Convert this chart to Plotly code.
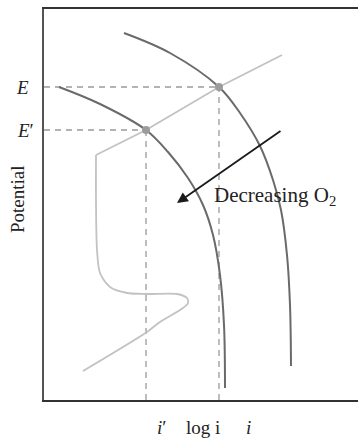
import plotly.graph_objects as go

# Polarisation curves on a log i (x) vs potential (y) plane, arbitrary units.
X_MAX = 314
Y_MAX = 391

# Cathodic O2 reduction curve, reduced oxygen concentration
low_o2_logi = [15, 56, 102, 124, 144, 159, 169, 176, 180, 181]
low_o2_pot = [313, 296, 270, 248, 222, 195, 165, 125, 75, 12]

# Cathodic O2 reduction curve, higher oxygen concentration
high_o2_logi = [80, 126, 175, 196, 216, 229, 237, 243, 246, 247]
high_o2_pot = [367, 347, 313, 287, 254, 220, 190, 145, 95, 34]

# Anodic metal curve: active (Tafel) branch
tafel_logi = [52, 102, 175, 238]
tafel_pot = [245, 270, 313, 345]

# Anodic metal curve: passive region and active-passive nose
passive_logi = [52, 52, 53, 56, 66, 83, 103, 133, 143, 144, 139, 116, 103, 39]
passive_pot = [245, 200, 150, 127, 113, 107, 106, 106, 102, 97, 92, 78, 68, 29]

# Mixed-potential operating points (E', i') and (E, i)
op_logi = [102, 175]
op_pot = [270, 313]

# Arrow showing the shift with decreasing oxygen
arrow_logi = [238, 133]
arrow_pot = [270, 197]

serif = "Liberation Serif"
dark = "#6a6a6a"
light = "#c2c2c2"
guide = "#9a9a9a"
ink = "#222222"


def px(v):
    return v / X_MAX


def py(v):
    return v / Y_MAX


fig = go.Figure()

fig.add_trace(go.Scatter(x=passive_logi, y=passive_pot, mode="lines",
                         line=dict(color=light, width=1.8, shape="spline", smoothing=0.8),
                         hoverinfo="skip"))
fig.add_trace(go.Scatter(x=tafel_logi, y=tafel_pot, mode="lines",
                         line=dict(color=light, width=1.8), hoverinfo="skip"))
fig.add_trace(go.Scatter(x=low_o2_logi, y=low_o2_pot, mode="lines",
                         line=dict(color=dark, width=2, shape="spline", smoothing=1.0),
                         hoverinfo="skip"))
fig.add_trace(go.Scatter(x=high_o2_logi, y=high_o2_pot, mode="lines",
                         line=dict(color=dark, width=2, shape="spline", smoothing=1.0),
                         hoverinfo="skip"))

# Dashed guides from each operating point to the axes
for xi, yi in zip(op_logi, op_pot):
    fig.add_shape(type="line", x0=0, x1=xi, y0=yi, y1=yi, xref="x", yref="y",
                  line=dict(color=guide, width=1.3, dash="6px,5px"), layer="below")
    fig.add_shape(type="line", x0=xi, x1=xi, y0=0, y1=yi, xref="x", yref="y",
                  line=dict(color=guide, width=1.3, dash="6px,5px"), layer="below")

fig.add_trace(go.Scatter(x=op_logi, y=op_pot, mode="markers",
                         marker=dict(color="#9c9c9c", size=8), hoverinfo="skip"))

fig.add_annotation(x=arrow_logi[1], y=arrow_pot[1], ax=arrow_logi[0], ay=arrow_pot[0],
                   xref="x", yref="y", axref="x", ayref="y", text="",
                   showarrow=True, arrowhead=2, arrowsize=1.2, arrowwidth=1.8,
                   arrowcolor="#1a1a1a")
fig.add_annotation(x=168, y=204, xref="x", yref="y", text="Decreasing O<sub>2</sub>",
                   showarrow=False, xanchor="left", yanchor="middle",
                   font=dict(family=serif, size=21, color=ink))

# Labels outside the plotting area (paper coordinates, centred on their point)
label_font = dict(family=serif, size=19, color=ink)
outer_labels = [
    (-22, op_pot[1], "<i>E</i>", 0),
    (-19, op_pot[0], "<i>E</i>\u2032", 0),
    (117, -28, "<i>i</i>\u2032", 0),
    (159, -28, "log i", 0),
    (204, -28, "<i>i</i>", 0),
    (-27, 201, "Potential", -90),
]
for lx, ly, txt, ang in outer_labels:
    fig.add_annotation(x=px(lx), y=py(ly), xref="paper", yref="paper", text=txt,
                       textangle=ang, showarrow=False, xanchor="center",
                       yanchor="middle", font=label_font)

fig.update_layout(
    width=358, height=440,
    margin=dict(l=44, r=0, t=9, b=40),
    paper_bgcolor="white", plot_bgcolor="white",
    showlegend=False,
    xaxis=dict(range=[0, X_MAX], showgrid=False, zeroline=False, showticklabels=False,
               ticks="", showline=True, mirror=True, linecolor="#333", linewidth=1.6,
               fixedrange=True),
    yaxis=dict(range=[0, Y_MAX], showgrid=False, zeroline=False, showticklabels=False,
               ticks="", showline=True, linecolor="#555", linewidth=2, fixedrange=True),
)

fig.write_html("out.html")
